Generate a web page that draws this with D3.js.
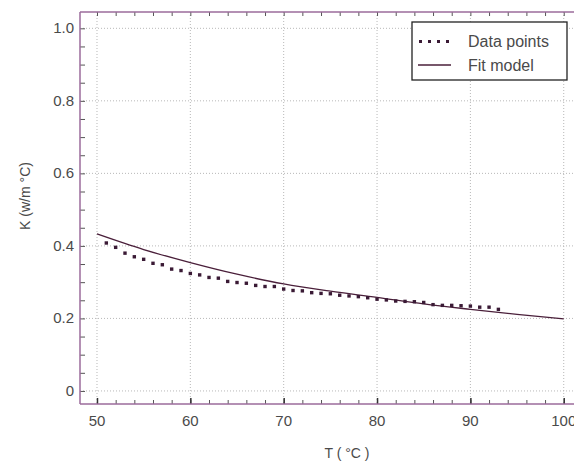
<!DOCTYPE html>
<html><head><meta charset="utf-8">
<script src="https://cdn.jsdelivr.net/npm/d3@7"></script>
<style>
body{margin:0;background:#fff;}
svg text{font-family:"Liberation Sans",Arial,sans-serif;fill:#4a4a4a;}
</style></head>
<body><svg id="c" width="574" height="463"></svg>
<script>
const dataT = [51,52,53,54,55,56,57,58,59,60,61,62,63,64,65,66,67,68,69,70,71,72,73,74,75,76,77,78,79,80,81,82,83,84,85,86,87,88,89,90,91,92,93];
const dataK = [0.408,0.396,0.380,0.370,0.363,0.352,0.348,0.336,0.332,0.324,0.320,0.313,0.311,0.302,0.299,0.297,0.291,0.288,0.288,0.281,0.277,0.276,0.271,0.269,0.268,0.264,0.262,0.260,0.257,0.253,0.251,0.248,0.247,0.246,0.244,0.238,0.236,0.236,0.235,0.234,0.231,0.231,0.225];
const fitT = [50,55,60,65,70,75,80,85,90,95,100];
const fitK = [0.433,0.390,0.354,0.322,0.295,0.275,0.258,0.240,0.225,0.211,0.199];
const xTicks = [50,60,70,80,90,100];
const yTicks = [0,0.2,0.4,0.6,0.8,1.0];
const yTickLabels = ["0","0.2","0.4","0.6","0.8","1.0"];
const legendLabels = ["Data points","Fit model"];

const svg = d3.select("#c");
const L=80, R=574, T=12, B=404;
const x = d3.scaleLinear().domain([48.18,101.1]).range([L,R]);
const y = d3.scaleLinear().domain([-0.036,1.045]).range([B,T]);
const axisCol = "#9b6b9b";

// grid
const g = svg.append("g");
g.selectAll(".gx").data(xTicks).join("line")
  .attr("x1",d=>x(d)).attr("x2",d=>x(d)).attr("y1",T).attr("y2",B)
  .attr("stroke","#b8b8b8").attr("stroke-width",1).attr("stroke-dasharray","1,2");
g.selectAll(".gy").data(yTicks).join("line")
  .attr("x1",L).attr("x2",R).attr("y1",d=>y(d)).attr("y2",d=>y(d))
  .attr("stroke","#b8b8b8").attr("stroke-width",1).attr("stroke-dasharray","1,2");

// axes (inward ticks)
const xMinor = d3.range(50,101,2);
const yMinor = d3.range(0,1.001,0.05);
const ax = svg.append("g").attr("transform",`translate(0,${B})`)
  .call(d3.axisTop(x).tickValues(xMinor).tickSize(4).tickFormat(""));
ax.select(".domain").remove();
ax.selectAll("line").attr("stroke","#555");
const axM = svg.append("g").attr("transform",`translate(0,${B})`)
  .call(d3.axisTop(x).tickValues(xTicks).tickSize(6).tickFormat(""));
axM.select(".domain").remove();
axM.selectAll("line").attr("stroke","#333").attr("stroke-width",1.5);
const axT = svg.append("g").attr("transform",`translate(0,${T})`)
  .call(d3.axisBottom(x).tickValues(xMinor).tickSize(4).tickFormat(""));
axT.select(".domain").remove();
axT.selectAll("line").attr("stroke","#555");
const ay = svg.append("g").attr("transform",`translate(${L},0)`)
  .call(d3.axisRight(y).tickValues(yMinor).tickSize(5).tickFormat(""));
ay.select(".domain").remove();
ay.selectAll("line").attr("stroke","#555");

svg.append("line").attr("x1",L).attr("x2",R).attr("y1",B).attr("y2",B).attr("stroke",axisCol).attr("stroke-width",1.5);
svg.append("line").attr("x1",L).attr("x2",R).attr("y1",T).attr("y2",T).attr("stroke",axisCol).attr("stroke-width",1.5);
svg.append("line").attr("x1",L).attr("x2",L).attr("y1",T).attr("y2",B).attr("stroke",axisCol).attr("stroke-width",1.5);

// tick labels
svg.selectAll(".xl").data(xTicks).join("text")
  .attr("x",d=>x(d)).attr("y",B+22).attr("text-anchor","middle")
  .attr("font-size",15).text(d=>d);
svg.selectAll(".yl").data(yTicks).join("text")
  .attr("x",L-6).attr("y",d=>y(d)+5).attr("text-anchor","end")
  .attr("font-size",15).text((d,i)=>yTickLabels[i]);

// titles
svg.append("text").attr("x",347).attr("y",458).attr("text-anchor","middle")
  .attr("font-size",14).text("T ( °C )");
svg.append("text").attr("transform","translate(30,196) rotate(-90)").attr("text-anchor","middle")
  .attr("font-size",14).text("K (w/m °C)");

// fit line
svg.append("path").datum(fitT.map((t,i)=>[t,fitK[i]]))
  .attr("d",d3.line().x(d=>x(d[0])).y(d=>y(d[1])).curve(d3.curveMonotoneX))
  .attr("fill","none").attr("stroke","#4a1f3a").attr("stroke-width",1.3);

// data points
svg.selectAll(".pt").data(dataT).join("rect")
  .attr("x",(d)=>x(d)-1.7).attr("y",(d,i)=>y(dataK[i])-1.7)
  .attr("width",3.4).attr("height",3.4).attr("fill","#3a1a35");

// legend
svg.append("rect").attr("x",412).attr("y",22).attr("width",155).attr("height",58)
  .attr("fill","#fff").attr("stroke","#222").attr("stroke-width",1.3);
[0,1,2,3].forEach(i=>{
  svg.append("rect").attr("x",419+i*9).attr("y",40).attr("width",3).attr("height",3).attr("fill","#3a1a35");
});
svg.append("line").attr("x1",418).attr("x2",451).attr("y1",65).attr("y2",65).attr("stroke","#4a1f3a").attr("stroke-width",1.3);
svg.selectAll(".lg").data(legendLabels).join("text")
  .attr("x",468).attr("y",(d,i)=>47+i*24).attr("font-size",16).attr("fill","#333").text(d=>d);
</script></body></html>
